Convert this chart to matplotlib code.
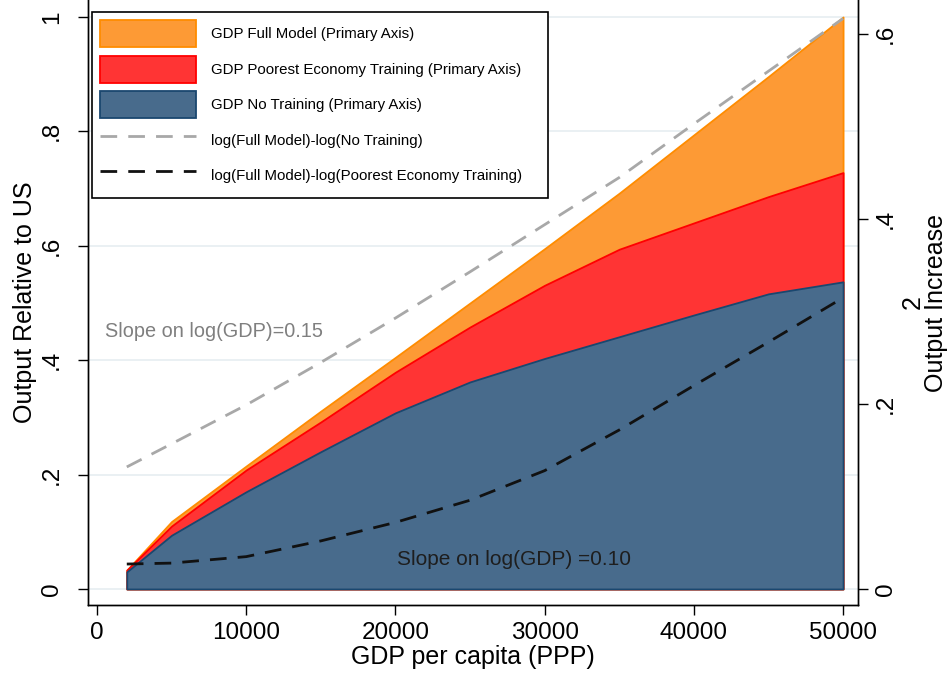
import matplotlib
matplotlib.use("Agg")
import matplotlib.pyplot as plt
from matplotlib.patches import Patch, Rectangle
from matplotlib.lines import Line2D

# GDP per capita grid and simulated output levels (relative to US)
gdp = [2000, 5000, 10000, 15000, 20000, 25000, 30000, 35000, 40000, 45000, 50000]
full_model = [0.033, 0.118, 0.215, 0.311, 0.405, 0.500, 0.595, 0.692, 0.794, 0.896, 1.000]
poorest_training = [0.033, 0.110, 0.208, 0.292, 0.379, 0.458, 0.531, 0.594, 0.640, 0.686, 0.728]
no_training = [0.030, 0.094, 0.170, 0.240, 0.308, 0.362, 0.403, 0.441, 0.479, 0.516, 0.537]

# log gaps, plotted on the secondary axis
gap_no_training = [0.132, 0.157, 0.199, 0.245, 0.293, 0.343, 0.394, 0.445, 0.503, 0.560, 0.617]
gap_poorest = [0.027, 0.028, 0.035, 0.052, 0.072, 0.096, 0.128, 0.172, 0.220, 0.267, 0.315]

x_ticks = [0, 10000, 20000, 30000, 40000, 50000]
y_ticks = [0, 0.2, 0.4, 0.6, 0.8, 1.0]
y_ticklabels = ["0", ".2", ".4", ".6", ".8", "1"]
y2_ticks = [0, 0.2, 0.4, 0.6]
y2_ticklabels = ["0", ".2", ".4", ".6"]

legend_labels = [
    "GDP Full Model (Primary Axis)",
    "GDP Poorest Economy Training (Primary Axis)",
    "GDP No Training (Primary Axis)",
    "log(Full Model)-log(No Training)",
    "log(Full Model)-log(Poorest Economy Training)",
]

ORANGE, ORANGE_EDGE = "#fd9a35", "#ff8c00"
RED, RED_EDGE = "#ff3434", "#ff0000"
BLUE, BLUE_EDGE = "#486b8c", "#1a476f"
GRAY_DASH = "#a8a8a8"
GRID = "#eaf0f3"

plt.rcParams["font.family"] = ["Liberation Sans", "DejaVu Sans"]

W, H = 952, 675
fig = plt.figure(figsize=(W / 100, H / 100), dpi=100)
ax = fig.add_axes([88 / W, 70 / H, 770 / W, 605 / H])
ax2 = ax.twinx()

# areas drawn largest first so the smaller ones sit on top
ax.fill_between(gdp, 0, full_model, facecolor=ORANGE, edgecolor=ORANGE_EDGE, lw=1.3, zorder=2)
ax.fill_between(gdp, 0, poorest_training, facecolor=RED, edgecolor=RED_EDGE, lw=1.3, zorder=3)
ax.fill_between(gdp, 0, no_training, facecolor=BLUE, edgecolor=BLUE_EDGE, lw=1.3, zorder=4)

ax2.plot(gdp, gap_no_training, color=GRAY_DASH, lw=2, dashes=(6, 4))
ax2.plot(gdp, gap_poorest, color="#111111", lw=2, dashes=(6, 4))

ax.set_xlim(-600, 51000)
ax.set_ylim(-0.028, 1.0297)
ax2.set_ylim(-0.0173, 0.637)

ax.set_yticks(y_ticks)
ax.set_yticklabels(y_ticklabels, rotation=90, va="center", fontsize=17.5)
ax.set_xticks(x_ticks)
ax.set_xticklabels([str(v) for v in x_ticks], fontsize=17.5)
ax2.set_yticks(y2_ticks)
ax2.set_yticklabels(y2_ticklabels, rotation=90, va="center", fontsize=17.5)

for a in (ax, ax2):
    a.tick_params(direction="out", length=7, width=1, colors="black")
    a.spines["top"].set_visible(False)
    for s in ("left", "right", "bottom"):
        a.spines[s].set_linewidth(1)
ax.tick_params(axis="y", pad=11)
ax2.tick_params(axis="y", pad=5)
ax.tick_params(axis="x", pad=5)

ax.set_axisbelow(True)
ax.grid(axis="y", color=GRID, lw=1.4)
ax.grid(axis="x", visible=False)
ax.set_zorder(ax2.get_zorder() - 1)
ax2.patch.set_visible(False)

ax.set_ylabel("Output Relative to US", fontsize=18, labelpad=3)
ax.set_xlabel("GDP per capita (PPP)", fontsize=18, labelpad=1)
ax2.set_ylabel("2\nOutput Increase", fontsize=18, rotation=90, labelpad=3,
               multialignment="center", linespacing=0.95)

ax.text(550, 0.451, "Slope on log(GDP)=0.15", color="#7f7f7f", fontsize=14.3,
        va="center", ha="left", zorder=6)
ax.text(27950, 0.051, "Slope on log(GDP) =0.10", color="#1e1e1e", fontsize=15,
        va="center", ha="center", zorder=6)

# legend: entries placed without frame, box drawn separately behind them
handles = [
    Patch(facecolor=ORANGE, edgecolor=ORANGE_EDGE, lw=1.3),
    Patch(facecolor=RED, edgecolor=RED_EDGE, lw=1.3),
    Patch(facecolor=BLUE, edgecolor=BLUE_EDGE, lw=1.3),
    Line2D([], [], color=GRAY_DASH, lw=2, dashes=(6, 4)),
    Line2D([], [], color="#111111", lw=2, dashes=(6, 4)),
]
leg_box = Rectangle((92 / W, 1 - 198 / H), 456 / W, 186 / H,
                    transform=fig.transFigure, facecolor="white",
                    edgecolor="black", lw=1.2, zorder=8, clip_on=False)
ax2.add_artist(leg_box)
leg = ax2.legend(handles, legend_labels, loc="upper left",
                 bbox_to_anchor=(100 / W, 1 - 20 / H), bbox_transform=fig.transFigure,
                 fontsize=10.8, handlelength=6.4, handleheight=2.39, labelspacing=0.57,
                 handletextpad=1.0, borderpad=0, borderaxespad=0, frameon=False)
leg.set_zorder(10)

fig.savefig("out.png", dpi=100)
